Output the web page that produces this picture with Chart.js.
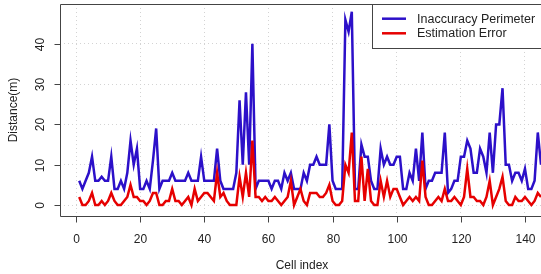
<!DOCTYPE html>
<html>
<head>
<meta charset="utf-8">
<script src="https://cdn.jsdelivr.net/npm/chart.js@4"></script>
<style>
  html, body { margin: 0; padding: 0; background: #fff; }
  canvas { display: block; }
</style>
</head>
<body>
<canvas id="grafico" width="541" height="274"></canvas>
<script>
// dados (um valor por célula, a partir da célula 1)
const firstCell = 1;
const inaccuracyPerimeter = [
  6, 4, 6, 8, 12, 6, 6, 7, 6, 6,
  12, 4, 4, 6, 4, 8, 16, 10, 14, 4,
  4, 6, 4, 11, 19, 4, 6, 6, 6, 8,
  6, 6, 6, 6, 8, 6, 6, 6, 12, 6,
  6, 6, 6, 14, 6, 4, 4, 4, 4, 8,
  26, 10, 28, 10, 40, 4, 6, 6, 6, 6,
  4, 6, 6, 4, 8, 6, 8, 4, 4, 4,
  8, 6, 10, 10, 12, 10, 10, 10, 20, 6,
  4, 4, 4, 46, 43, 48, 4, 4, 15, 12,
  12, 6, 4, 4, 14, 10, 12, 10, 10, 12,
  12, 4, 4, 8, 6, 14, 6, 18, 4, 6,
  6, 8, 8, 8, 18, 3, 4, 6, 6, 12,
  12, 16, 14, 8, 8, 14, 12, 8, 18, 8,
  20, 20, 29, 10, 10, 6, 8, 8, 6, 9,
  4, 4, 6, 18, 10
];
const estimationError = [
  2, 0, 0, 1, 3, 0, 0, 1, 0, 1,
  3, 1, 0, 0, 1, 2, 5, 2, 2, 1,
  1, 0, 1, 3, 3, 0, 0, 1, 1, 4,
  1, 1, 0, 1, 2, 0, 4, 1, 2, 3,
  3, 2, 1, 8, 2, 3, 1, 0, 0, 0,
  7, 2, 8, 2, 16, 2, 2, 1, 2, 1,
  1, 2, 1, 0, 1, 2, 6, 0, 2, 4,
  1, 0, 3, 3, 3, 2, 2, 3, 5, 1,
  0, 0, 1, 10, 8, 18, 1, 1, 12, 1,
  9, 1, 0, 0, 6, 2, 6, 2, 4, 4,
  2, 0, 1, 2, 1, 2, 1, 11, 2, 0,
  0, 1, 2, 1, 4, 1, 1, 2, 1, 0,
  2, 9, 2, 2, 1, 1, 0, 2, 6, 0,
  2, 4, 7, 1, 0, 0, 2, 1, 1, 2,
  1, 0, 1, 3, 2
];
const xTicks = [0, 20, 40, 60, 80, 100, 120, 140];
const yTicks = [0, 10, 20, 30, 40];

const corAzul = "#2c10c9";
const corVermelha = "#e60000";
const fonte = '12px "Liberation Sans", Arial, sans-serif';
const fonteLegenda = '12.5px "Liberation Sans", Arial, sans-serif';

function pontos(valores) {
  return valores.map((v, i) => ({ x: firstCell + i, y: v }));
}

// eixos, caixa e legenda no estilo do R
const eixosR = {
  id: "eixosR",
  afterDraw(chart) {
    const ctx = chart.ctx;
    const a = chart.chartArea;
    const x = chart.scales.x;
    const y = chart.scales.y;
    ctx.save();

    // caixa
    ctx.strokeStyle = "#444";
    ctx.lineWidth = 1;
    ctx.beginPath();
    ctx.moveTo(545, a.top + 0.5);
    ctx.lineTo(a.left + 0.5, a.top + 0.5);
    ctx.lineTo(a.left + 0.5, a.bottom + 0.5);
    ctx.lineTo(545, a.bottom + 0.5);
    ctx.stroke();

    ctx.fillStyle = "#222";
    ctx.font = fonte;

    // eixo x
    ctx.textAlign = "center";
    ctx.textBaseline = "middle";
    xTicks.forEach(t => {
      const px = Math.round(x.getPixelForValue(t)) + 0.5;
      ctx.beginPath();
      ctx.moveTo(px, a.bottom + 0.5);
      ctx.lineTo(px, a.bottom + 6.5);
      ctx.stroke();
      ctx.fillText(String(t), px, 240);
    });

    // eixo y (rótulos girados)
    yTicks.forEach(t => {
      const py = Math.round(y.getPixelForValue(t)) + 0.5;
      ctx.beginPath();
      ctx.moveTo(a.left + 0.5, py);
      ctx.lineTo(a.left - 5.5, py);
      ctx.stroke();
      ctx.save();
      ctx.translate(41, py);
      ctx.rotate(-Math.PI / 2);
      ctx.fillText(String(t), 0, 0);
      ctx.restore();
    });

    // títulos
    ctx.fillText("Cell index", 302, 266);
    ctx.save();
    ctx.translate(14, (a.top + a.bottom) / 2);
    ctx.rotate(-Math.PI / 2);
    ctx.fillText("Distance(m)", 0, 0);
    ctx.restore();

    // legenda
    ctx.fillStyle = "#fff";
    ctx.fillRect(372.5, a.top + 0.5, 180, 44);
    ctx.strokeRect(372.5, a.top + 0.5, 180, 44);
    const itens = [
      { texto: "Inaccuracy Perimeter", cor: corAzul, yy: 18.7 },
      { texto: "Estimation Error", cor: corVermelha, yy: 33.3 }
    ];
    ctx.textAlign = "left";
    ctx.font = fonteLegenda;
    itens.forEach(it => {
      ctx.strokeStyle = it.cor;
      ctx.lineWidth = 2.5;
      ctx.beginPath();
      ctx.moveTo(382, it.yy);
      ctx.lineTo(406, it.yy);
      ctx.stroke();
      ctx.fillStyle = "#222";
      ctx.fillText(it.texto, 417, it.yy + 0.5);
    });

    ctx.restore();
  }
};

const ctxGrafico = document.getElementById("grafico").getContext("2d");
const chartLinhas = new Chart(ctxGrafico, {
  type: "line",
  data: {
    datasets: [
      {
        label: "Inaccuracy Perimeter",
        data: pontos(inaccuracyPerimeter),
        borderColor: corAzul,
        borderWidth: 2.5,
        pointRadius: 0,
        tension: 0,
        fill: false,
        order: 1
      },
      {
        label: "Estimation Error",
        data: pontos(estimationError),
        borderColor: corVermelha,
        borderWidth: 2.5,
        pointRadius: 0,
        tension: 0,
        fill: false,
        order: 0
      }
    ]
  },
  options: {
    responsive: false,
    devicePixelRatio: 1,
    animation: false,
    layout: { padding: { left: 0, right: 0, top: 4, bottom: 0 } },
    plugins: { legend: { display: false }, tooltip: { enabled: false } },
    scales: {
      x: {
        type: "linear",
        min: -4.99,
        max: 145,
        afterBuildTicks: s => { s.ticks = xTicks.map(v => ({ value: v })); },
        afterFit: s => { s.height = 58; },
        ticks: { display: false },
        grid: { color: "#d3d3d3", lineWidth: 1, drawTicks: false },
        border: { display: false, dash: [1, 3] }
      },
      y: {
        type: "linear",
        min: -2.73,
        max: 49.9,
        afterBuildTicks: s => { s.ticks = yTicks.map(v => ({ value: v })); },
        afterFit: s => { s.width = 60; },
        ticks: { display: false },
        grid: { color: "#d3d3d3", lineWidth: 1, drawTicks: false },
        border: { display: false, dash: [1, 3] }
      }
    }
  },
  plugins: [eixosR]
});
</script>
</body>
</html>
